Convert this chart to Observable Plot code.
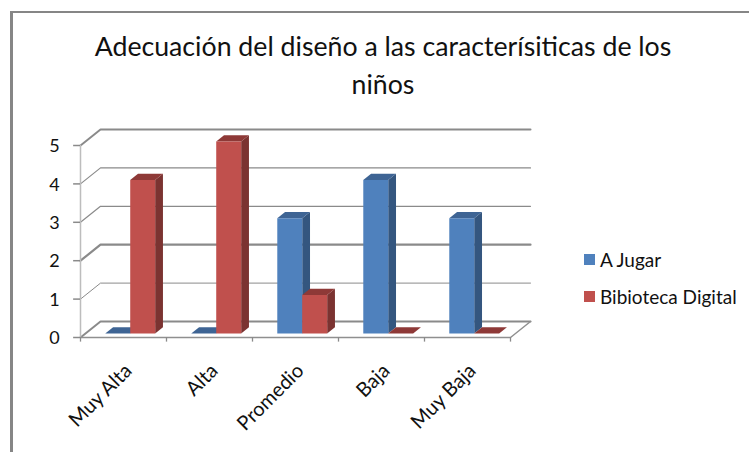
<!DOCTYPE html>
<html lang="es">
<head>
<meta charset="utf-8">
<script src="https://cdn.jsdelivr.net/npm/d3@7"></script>
<script src="https://cdn.jsdelivr.net/npm/@observablehq/plot@0.6"></script>
<style>
  html, body { margin: 0; padding: 0; background: #fff; }
  #page { position: relative; width: 749px; height: 452px; overflow: hidden; font-family: Lato, sans-serif; color: #111; }
  #edgeTop { position: absolute; left: 10px; top: 11px; right: 0; height: 2px; background: #868686; }
  #edgeLeft { position: absolute; left: 10px; top: 11px; bottom: 0; width: 3px; background: #868686; }
  #title { position: absolute; left: 53px; width: 660px; top: 27px; text-align: center; font-size: 26.7px; line-height: 38px; }
  #legend { position: absolute; left: 584px; top: 241px; font-size: 19px; }
  #legend div { display: flex; align-items: center; height: 37px; white-space: nowrap; }
  #legend i { display: block; width: 11px; height: 11px; margin-right: 5px; }
  svg { position: absolute; left: 0; top: 0; }
</style>
</head>
<body>
<div id="page">
  <div id="edgeTop"></div>
  <div id="edgeLeft"></div>
  <div id="title">Adecuación del diseño a las caracterísiticas de los<br>niños</div>
  <div id="legend"></div>
</div>
<script>
const categories = ["Muy Alta", "Alta", "Promedio", "Baja", "Muy Baja"];
const aJugar = [0, 0, 3, 4, 3];
const bibliotecaDigital = [4, 5, 1, 0, 0];
const valueTicks = [0, 1, 2, 3, 4, 5];
const seriesNames = ["A Jugar", "Bibioteca Digital"];

const palette = [
  {front: "#4f81bd", side: "#34567f", top: "#3e6494"},
  {front: "#c0504d", side: "#7b3331", top: "#8e3937"}
];

// Oblique projection of the chart's depth axis onto x and y data units.
const shiftX = 20 / 86, shiftY = 16 / 38.4;
const project = (x, y, z) => ({x: x + z * shiftX, y: y + z * shiftY});

// Depth positions: front of the floor is 0, back wall is 1.
const barFront = 0.25, barBack = 0.64;
const barStart = 0.23, barWidth = 0.29;

// Every bar becomes three filled faces (side, top, front).
const vertices = [];
[aJugar, bibliotecaDigital].forEach((series, s) => {
  series.forEach((value, i) => {
    const x0 = i + barStart + s * barWidth, x1 = x0 + barWidth;
    const faces = [
      ["side", [[x1, 0, barFront], [x1, 0, barBack], [x1, value, barBack], [x1, value, barFront]]],
      ["top", [[x0, value, barFront], [x0, value, barBack], [x1, value, barBack], [x1, value, barFront]]],
      ["front", [[x0, 0, barFront], [x1, 0, barFront], [x1, value, barFront], [x0, value, barFront]]]
    ];
    for (const [name, corners] of faces) {
      for (const c of corners) {
        vertices.push({...project(...c), face: `${s}-${i}-${name}`, color: palette[s][name]});
      }
    }
  });
});

// Gridlines run along the left wall and then across the back wall.
const gridWeight = {0: 2, 1: 1, 2: 2.2, 3: 1.2, 4: 1.2, 5: 2};
const grid = valueTicks.flatMap(v => [
  {...project(0, v, 0), v},
  {...project(0, v, 1), v},
  {...project(5, v, 1), v}
]);
const floorEdge = [project(0, 0, 0), project(5, 0, 0), project(5, 0, 1)];
const leftEdge = [project(0, 0, 0), project(0, 5, 0)];

const chart = Plot.plot({
  width: 749,
  height: 452,
  marginTop: 0, marginRight: 0, marginBottom: 0, marginLeft: 0,
  style: {background: "transparent", fontFamily: "Lato, sans-serif"},
  x: {type: "linear", domain: [0, 5], range: [80, 510], axis: null},
  y: {type: "linear", domain: [0, 5], range: [337, 145], axis: null},
  marks: [
    ...valueTicks.map(v => Plot.line(grid.filter(d => d.v === v), {
      x: "x", y: "y", stroke: "#8a8a8a", strokeWidth: gridWeight[v]
    })),
    Plot.line(leftEdge, {x: "x", y: "y", stroke: "#bdbdbd", strokeWidth: 1.5}),
    Plot.line(floorEdge, {x: "x", y: "y", stroke: "#8f8f8f", strokeWidth: 1.5}),
    Plot.line(vertices, {x: "x", y: "y", z: "face", fill: d => d.color, stroke: null}),
    Plot.ruleY(valueTicks, {y: d => d, x1: -0.08, x2: 0, stroke: "#8a8a8a", strokeWidth: 1.5}),
    Plot.ruleX(d3.range(categories.length + 1), {x: d => d, y1: 0, y2: -0.12, stroke: "#8a8a8a", strokeWidth: 1.3}),
    Plot.text(valueTicks, {
      x: () => 0, y: d => d, text: d => String(d), dx: -26, dy: 1,
      fontSize: 18, fill: "#111"
    }),
    Plot.text(categories, {
      x: (d, i) => i + 0.5, y: () => 0, text: d => d,
      rotate: -45, textAnchor: "end", dx: 5, dy: 30, fontSize: 20, fill: "#111"
    })
  ]
});
document.getElementById("page").appendChild(chart);

const legend = document.getElementById("legend");
seriesNames.forEach((name, s) => {
  const row = document.createElement("div");
  const swatch = document.createElement("i");
  swatch.style.background = palette[s].front;
  row.append(swatch, name);
  legend.append(row);
});
</script>
</body>
</html>
